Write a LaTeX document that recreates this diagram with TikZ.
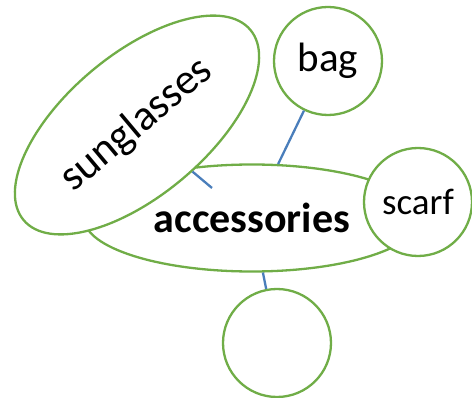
\documentclass[tikz,border=0pt]{standalone}
\usepackage{fontspec}
\setmainfont{Carlito}
\usetikzlibrary{shapes.geometric}
\definecolor{grn}{HTML}{70AD47}
\definecolor{lnk}{HTML}{4A7EBB}
\begin{document}
\begin{tikzpicture}[x=1pt,y=-1pt,
  shapebox/.style={draw=grn, line width=2.3pt, fill=white, inner sep=0pt},
  roundbox/.style={shapebox, circle, minimum size=108pt},
  link/.style={draw=lnk, line width=2.3pt}]
\useasboundingbox (0,0) rectangle (472,398);
\node[shapebox, ellipse, minimum width=336pt, minimum height=107pt,
      font=\fontsize{42}{50}\selectfont\bfseries] (acc) at (252,218) {accessories};
\node[shapebox, ellipse, minimum width=296pt, minimum height=141pt, rotate=40,
      font=\fontsize{43}{50}\selectfont] (sg) at (137,125) {sunglasses};
\node[roundbox, font=\fontsize{41}{48}\selectfont] (bag) at (328,61) {bag};
\node[roundbox, font=\fontsize{37}{44}\selectfont] (scarf) at (418,202) {scarf};
\node[roundbox] (blank) at (277,343) {};
\coordinate (sgend) at (212,188);
\draw[link] (acc) -- (bag);
\draw[link] (acc) -- (blank);
\draw[link] (sg) -- (sgend);
\end{tikzpicture}
\end{document}
